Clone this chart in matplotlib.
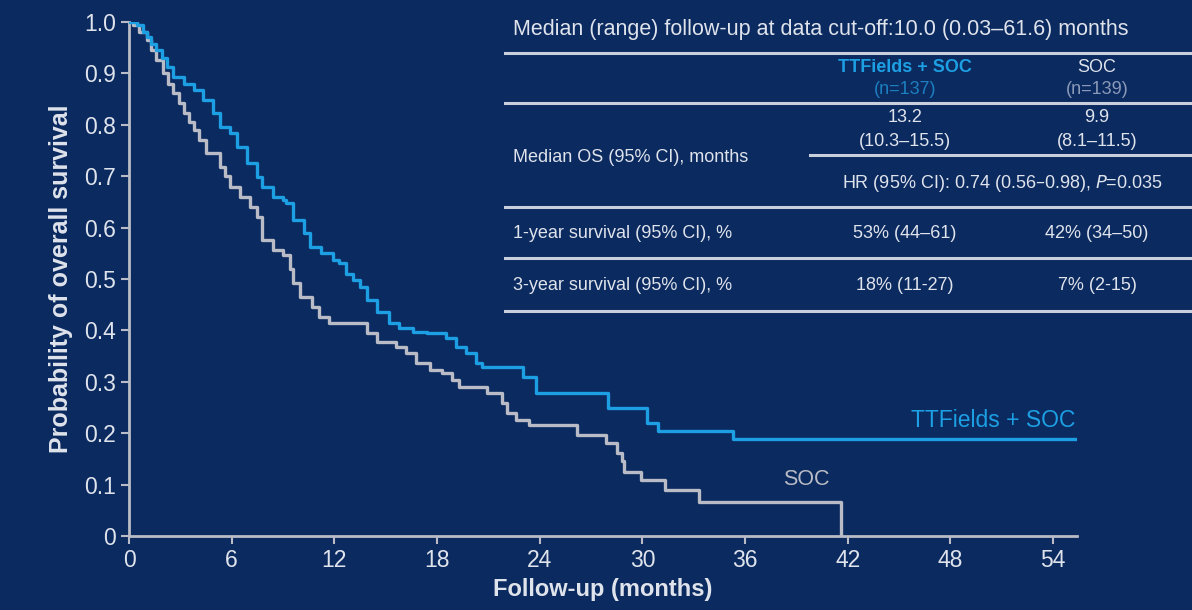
import matplotlib
matplotlib.use('Agg')
import matplotlib.pyplot as plt

plt.rcParams['font.family'] = ['Liberation Sans', 'DejaVu Sans']

# Kaplan-Meier steps (months, survival probability)
ttf_months = [0, 0.45, 0.8, 1.05, 1.3, 1.6, 1.9, 2.2, 2.6, 3.2, 3.8, 4.3, 4.9, 5.3, 5.9,
              6.3, 6.9, 7.5, 7.8, 8.4, 9.0, 9.2, 9.6, 10.2, 10.6, 11.2, 11.9, 12.3, 12.7,
              13.1, 13.5, 13.9, 14.5, 15.2, 15.8, 16.6, 17.4, 18.5, 19.1, 19.7, 20.3,
              20.6, 23.0, 23.8, 28.0, 30.3, 30.9, 35.3, 55.6]
ttf_surv = [1.0, 0.995, 0.98, 0.97, 0.958, 0.945, 0.93, 0.912, 0.893, 0.88, 0.868, 0.848,
            0.823, 0.796, 0.784, 0.757, 0.726, 0.699, 0.679, 0.66, 0.654, 0.648, 0.615,
            0.589, 0.562, 0.55, 0.537, 0.531, 0.51, 0.498, 0.485, 0.46, 0.436, 0.414,
            0.404, 0.397, 0.394, 0.385, 0.368, 0.356, 0.336, 0.329, 0.31, 0.279, 0.25,
            0.22, 0.205, 0.189, 0.189]

soc_months = [0, 0.25, 0.6, 1.05, 1.3, 1.6, 2.0, 2.3, 2.6, 2.9, 3.2, 3.5, 3.8, 4.1, 4.5,
              5.3, 5.6, 5.9, 6.5, 7.1, 7.5, 7.8, 8.4, 9.0, 9.4, 9.6, 10.0, 10.7, 11.1,
              11.7, 13.9, 14.5, 15.6, 16.2, 16.8, 17.6, 18.3, 18.9, 19.3, 20.9, 21.8,
              22.1, 22.6, 23.4, 26.2, 27.9, 28.5, 28.8, 28.9, 29.9, 31.3, 33.3, 41.6]
soc_surv = [1.0, 0.995, 0.98, 0.965, 0.945, 0.926, 0.9, 0.88, 0.862, 0.842, 0.823, 0.805,
            0.79, 0.77, 0.745, 0.718, 0.70, 0.679, 0.66, 0.64, 0.621, 0.576, 0.556, 0.547,
            0.52, 0.492, 0.465, 0.446, 0.426, 0.414, 0.394, 0.378, 0.368, 0.356, 0.336,
            0.323, 0.317, 0.303, 0.29, 0.278, 0.258, 0.239, 0.226, 0.216, 0.196, 0.18,
            0.161, 0.145, 0.125, 0.109, 0.089, 0.067, 0.0]

x_ticks = [0, 6, 12, 18, 24, 30, 36, 42, 48, 54]
y_ticks = [0, 0.1, 0.2, 0.3, 0.4, 0.5, 0.6, 0.7, 0.8, 0.9, 1.0]
y_ticklabels = ['0', '0.1', '0.2', '0.3', '0.4', '0.5', '0.6', '0.7', '0.8', '0.9', '1.0']

# summary table
followup_text = 'Median (range) follow-up at data cut-off:10.0 (0.03\u201361.6) months'
arms = ['TTFields + SOC', 'SOC']
arm_n = ['(n=137)', '(n=139)']
median_os = ['13.2', '9.9']
median_ci = ['(10.3\u201315.5)', '(8.1\u201311.5)']
hr_text = 'HR (95% CI): 0.74 (0.56\u20130.98), $\\it{P}$=0.035'
row_labels = ['Median OS (95% CI), months', '1-year survival (95% CI), %',
              '3-year survival (95% CI), %']
surv_1y = ['53% (44\u201361)', '42% (34\u201350)']
surv_3y = ['18% (11-27)', '7% (2-15)']

bg = '#0b2a5f'
blue = '#1d9fe3'
grey = '#b9bcc6'
txt = '#dfe3ec'

fig = plt.figure(figsize=(11.92, 6.10), dpi=100, facecolor=bg)
ax = fig.add_axes([129 / 1192, 1 - 536 / 610, (1077 - 129) / 1192, (536 - 22) / 610])
ax.set_facecolor(bg)

ax.step(ttf_months, ttf_surv, where='post', color=blue, lw=2.4, zorder=3)
ax.step(soc_months, soc_surv, where='post', color=grey, lw=2.4, zorder=2)

ax.set_xlim(0, 55.4)
ax.set_ylim(0, 1.0)
ax.set_xticks(x_ticks)
ax.set_yticks(y_ticks)
ax.set_yticklabels(y_ticklabels)
for s in ['top', 'right']:
    ax.spines[s].set_visible(False)
for s in ['left', 'bottom']:
    ax.spines[s].set_color(grey)
    ax.spines[s].set_linewidth(2)
ax.tick_params(colors=grey, labelcolor=txt, labelsize=16.5, width=1.5, length=6)
ax.set_ylabel('Probability of overall survival', color=txt, fontsize=18,
              fontweight='bold', labelpad=8)
ax.set_xlabel('Follow-up (months)', color=txt, fontsize=17, fontweight='bold', labelpad=4)

ax.text(55.3, 0.225, 'TTFields + SOC', color=blue, fontsize=16.5, ha='right', va='center')
ax.text(39.6, 0.11, 'SOC', color=grey, fontsize=15.5, ha='center', va='center')

# table in pixel coordinates
tb = fig.add_axes([0, 0, 1, 1], facecolor='none')
tb.set_xlim(0, 1192)
tb.set_ylim(610, 0)
tb.axis('off')

for y, x0 in [(53, 505), (103, 505), (155, 810), (207, 505), (258, 505), (311, 505)]:
    tb.plot([x0, 1192], [y, y], color='#c9cfdd', lw=2.2)

col_x = [905, 1097]
fs = 13
tb.text(513, 30, followup_text, color=txt, fontsize=15.5, ha='left', va='center')
for i in range(2):
    c = blue if i == 0 else txt
    nc = '#1c7fc0' if i == 0 else '#8a9ab8'
    tb.text(col_x[i], 67, arms[i], color=c, fontsize=fs, ha='center', va='center',
            fontweight='bold' if i == 0 else 'normal')
    tb.text(col_x[i], 90, arm_n[i], color=nc, fontsize=fs, ha='center', va='center')
    tb.text(col_x[i], 117, median_os[i], color=txt, fontsize=fs, ha='center', va='center')
    tb.text(col_x[i], 142, median_ci[i], color=txt, fontsize=fs, ha='center', va='center')
    tb.text(col_x[i], 234, surv_1y[i], color=txt, fontsize=fs, ha='center', va='center')
    tb.text(col_x[i], 285, surv_3y[i], color=txt, fontsize=fs, ha='center', va='center')
tb.text(1002, 183, hr_text, color=txt, fontsize=fs, ha='center', va='center')
tb.text(513, 157, row_labels[0], color=txt, fontsize=fs, ha='left', va='center')
tb.text(513, 234, row_labels[1], color=txt, fontsize=fs, ha='left', va='center')
tb.text(513, 285, row_labels[2], color=txt, fontsize=fs, ha='left', va='center')

fig.savefig('out.png', dpi=100, facecolor=bg)
